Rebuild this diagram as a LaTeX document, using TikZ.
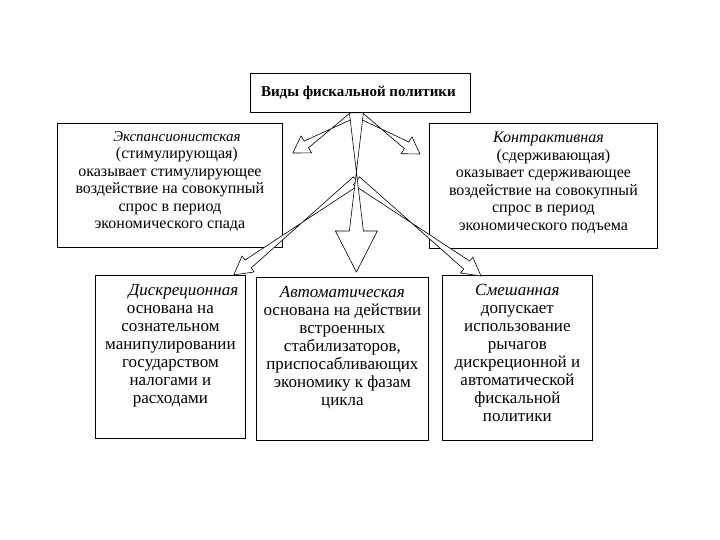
\documentclass[tikz,border=0pt]{standalone}
\usepackage{fontspec}
\setmainfont{Liberation Serif}
\usepackage{tikz}
\usetikzlibrary{arrows.meta, positioning, calc}

% hollow block arrow: from, to, half shaft, half head, head length (pt)
\newcommand{\hollowarrow}[5]{%
  \path ($(#2)!#5pt!(#1)$) coordinate (hb);
  \draw[arrowline] ($(#1)!#3pt!90:(#2)$) -- ($(hb)!#3pt!-90:(#2)$) -- ($(hb)!#4pt!-90:(#2)$) -- (#2)
    -- ($(hb)!#4pt!90:(#2)$) -- ($(hb)!#3pt!90:(#2)$) -- ($(#1)!#3pt!-90:(#2)$) -- cycle;
}

\begin{document}
\begin{tikzpicture}[x=1pt, y=1pt,
  box/.style={draw, line width=0.8pt, fill=white, inner sep=0pt, anchor=north west},
  txt/.style={align=center, inner sep=0pt, font=\fontsize{16}{17.5}\selectfont},
  lowtxt/.style={txt, font=\fontsize{17}{18}\selectfont},
  arrowline/.style={fill=white, line width=0.6pt, line join=miter}]
\useasboundingbox (0,0) rectangle (720,540);

% boxes
\node[box, minimum width=225, minimum height=124] (expan) at (57,417) {};
\node[box, minimum width=228, minimum height=125] (contra) at (429,417) {};
\node[box, minimum width=150, minimum height=163] (disc) at (95,265) {};
\node[box, minimum width=172, minimum height=163] (auto) at (256,263) {};
\node[box, minimum width=150, minimum height=165] (mixed) at (442,265) {};

% texts
\node[txt, below=8 of expan.north] (expantext) {\hspace*{14pt}\textit{\fontsize{15}{17.5}\selectfont Экспансионистская}\\
  \hspace*{14pt}(стимулирующая)\\ оказывает стимулирующее\\ воздействие на совокупный\\
  спрос в период\\ экономического спада};
\node[txt, below=9 of contra.north] (contratext) {\hspace*{10pt}\textit{Контрактивная}\\
  \hspace*{20pt}(сдерживающая)\\ оказывает сдерживающее\\ воздействие на совокупный\\
  спрос в период\\ экономического подъема};
\node[lowtxt, below=9 of disc.north] (disctext) {\hspace*{26pt}\textit{Дискреционная}\\
  основана на\\ сознательном\\ манипулировании\\ государством\\ налогами и\\ расходами};
\node[lowtxt, below=9 of auto.north] (autotext) {\textit{Автоматическая}\\
  основана на действии\\ встроенных\\ стабилизаторов,\\ приспосабливающих\\ экономику к фазам\\ цикла};
\node[lowtxt, below=9 of mixed.north] (mixedtext) {\textit{Смешанная}\\
  допускает\\ использование\\ рычагов\\ дискреционной и\\ автоматической\\ фискальной\\ политики};

% arrows
\node[box, minimum width=220, minimum height=39] (title) at (250,467) {};
\coordinate (top) at ($(title.south)+(-4,0)$);
\coordinate (mid) at ($(title.south)+(-4,-68)$);
\coordinate (tipexpan) at ($(expan.north east)+(10,-30)$);
\coordinate (tipcontra) at ($(contra.north west)+(-9,-31)$);
\coordinate (tipdisc) at ($(disc.north east)+(-12,0)$);
\coordinate (tipmixed) at ($(mixed.north west)+(39,-1)$);
\coordinate (tipauto) at ($(auto.north)+(14,5)$);
\hollowarrow{top}{tipexpan}{4}{10}{16}
\hollowarrow{top}{tipcontra}{4}{10}{16}
\hollowarrow{mid}{tipdisc}{5}{10}{18}
\hollowarrow{mid}{tipmixed}{5}{10}{18}
\hollowarrow{top}{tipauto}{7}{21}{41}

\node[box, minimum width=220, minimum height=39] (title) at (250,467) {};
\node[font=\fontsize{15}{17}\selectfont\bfseries] (titletext) at ($(title.center)+(-2,0)$) {Виды фискальной политики};
\end{tikzpicture}
\end{document}
